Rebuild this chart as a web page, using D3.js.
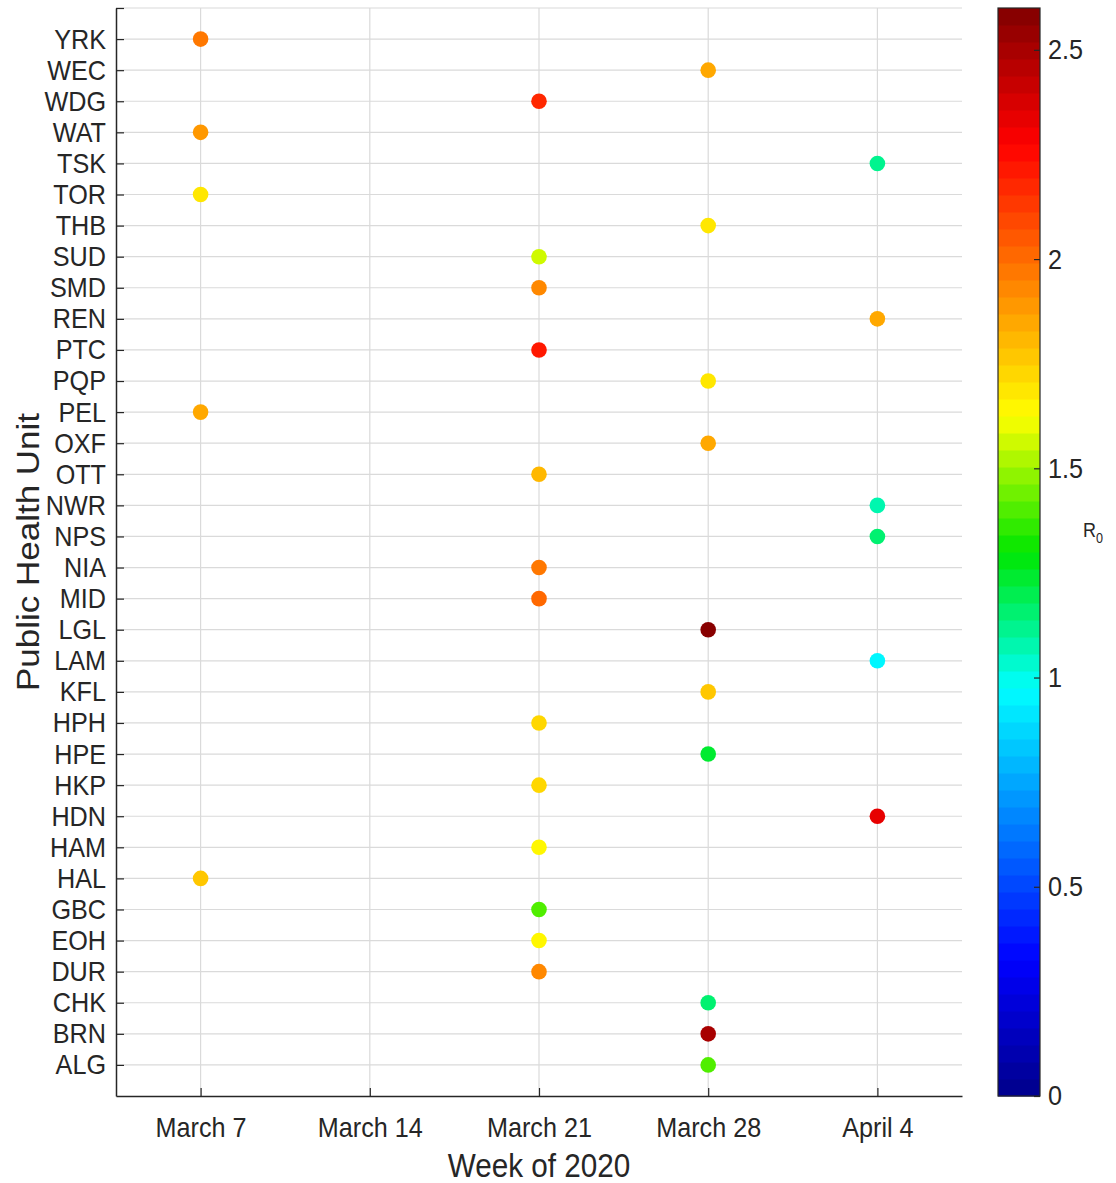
<!DOCTYPE html>
<html>
<head>
<meta charset="utf-8">
<script src="https://cdn.jsdelivr.net/npm/d3@7"></script>
<style>
  body { margin: 0; background: #fff; }
  text { font-family: "Liberation Sans", Arial, sans-serif; fill: #262626; }
</style>
</head>
<body>
<div id="chart"></div>
<script>

// categories (bottom to top)
var units = ["ALG", "BRN", "CHK", "DUR", "EOH", "GBC", "HAL", "HAM", "HDN", "HKP",
             "HPE", "HPH", "KFL", "LAM", "LGL", "MID", "NIA", "NPS", "NWR", "OTT",
             "OXF", "PEL", "PQP", "PTC", "REN", "SMD", "SUD", "THB", "TOR", "TSK",
             "WAT", "WDG", "WEC", "YRK"];

var weeks = ["March 7", "March 14", "March 21", "March 28", "April 4"];

// one entry per dot: unit, week, R0
var pointUnit = ["YRK", "WAT", "TOR", "PEL", "HAL",
                 "WDG", "SUD", "SMD", "PTC", "OTT", "NIA", "MID", "HPH", "HKP", "HAM", "GBC", "EOH", "DUR",
                 "WEC", "THB", "PQP", "OXF", "LGL", "KFL", "HPE", "CHK", "BRN", "ALG",
                 "TSK", "REN", "NWR", "NPS", "LAM", "HDN"];
var pointWeek = ["March 7", "March 7", "March 7", "March 7", "March 7",
                 "March 21", "March 21", "March 21", "March 21", "March 21", "March 21", "March 21",
                 "March 21", "March 21", "March 21", "March 21", "March 21", "March 21",
                 "March 28", "March 28", "March 28", "March 28", "March 28", "March 28", "March 28",
                 "March 28", "March 28", "March 28",
                 "April 4", "April 4", "April 4", "April 4", "April 4", "April 4"];
var pointR0 = [1.98, 1.87, 1.68, 1.85, 1.77,
               2.18, 1.57, 1.94, 2.20, 1.82, 1.96, 2.03, 1.72, 1.71, 1.65, 1.41, 1.64, 1.92,
               1.85, 1.68, 1.67, 1.84, 2.60, 1.77, 1.22, 1.15, 2.49, 1.40,
               1.10, 1.85, 1.06, 1.14, 0.97, 2.34];

var colorTicks = [0, 0.5, 1, 1.5, 2, 2.5];
var r0Max = 2.6;

// jet-like colour stops
var jetStops = [0, 0.125, 0.375, 0.5, 0.625, 0.75, 0.875, 1];
var jetColors = ["#00008a", "#0000ff", "#00ffff", "#00e600", "#ffff00", "#ff8000", "#ff0000", "#800000"];

var width = 1116;
var height = 1183;
var plotLeft = 116, plotRight = 962, plotTop = 8, plotBottom = 1096;
var squish = 0.9;   // the picture is a bit narrow
var fontSize = 28;

var svg = d3.select('#chart').append('svg')
            .attr('width', width)
            .attr('height', height);

var x = d3.scaleLinear()
          .domain([0.5, weeks.length + 0.5])
          .range([plotLeft, plotRight]);

var y = d3.scaleLinear()
          .domain([0, units.length + 1])
          .range([plotBottom, plotTop]);

var jet = d3.scaleLinear().domain(jetStops).range(jetColors).interpolate(d3.interpolateRgb);
var nLevels = 64;
function colorOf(v) {
  var i = Math.floor(v / r0Max * nLevels);
  i = Math.max(0, Math.min(nLevels - 1, i));
  return jet((i + 0.5) / nLevels);
}

// grid
var yTickValues = d3.range(1, units.length + 2);
var xTickValues = d3.range(1, weeks.length + 1);

svg.append('g').selectAll('line').data(yTickValues).enter().append('line')
   .attr('x1', plotLeft).attr('x2', plotRight)
   .attr('y1', function(d) { return y(d); })
   .attr('y2', function(d) { return y(d); })
   .attr('stroke', '#dadada').attr('stroke-width', 1.2);

svg.append('g').selectAll('line').data(xTickValues).enter().append('line')
   .attr('y1', plotTop).attr('y2', plotBottom)
   .attr('x1', function(d) { return x(d); })
   .attr('x2', function(d) { return x(d); })
   .attr('stroke', '#dadada').attr('stroke-width', 1.2);

// axes
var yAxis = d3.axisLeft(y)
              .tickValues(yTickValues)
              .tickFormat(function(i) { return units[i - 1] || ''; })
              .tickSizeInner(-8).tickSizeOuter(0);

var xAxis = d3.axisBottom(x)
              .tickValues(xTickValues)
              .tickFormat(function(i) { return weeks[i - 1]; })
              .tickSizeInner(-8).tickSizeOuter(0);

function styleTicks(sel) {
  sel.attr('transform', 'scale(' + squish + ',1)')
     .style('font-size', fontSize + 'px')
     .style('font-family', '"Liberation Sans", Arial, sans-serif')
     .attr('fill', '#262626');
}

var gy = svg.append('g')
            .attr('transform', 'translate(' + plotLeft + ',0)')
            .call(yAxis);
gy.selectAll('text').attr('x', -10 / squish).call(styleTicks);

var gx = svg.append('g')
            .attr('transform', 'translate(0,' + plotBottom + ')')
            .call(xAxis);
gx.selectAll('text').attr('y', 21).call(styleTicks);

[gx, gy].forEach(function(g) {
  g.select('.domain').attr('stroke', '#262626').attr('stroke-width', 1.5);
  g.selectAll('.tick line').attr('stroke', '#262626').attr('stroke-width', 1.2);
});

// axis labels
svg.append('text')
   .attr('transform', 'translate(' + ((plotLeft + plotRight) / 2) + ',1177) scale(' + squish + ',1)')
   .attr('text-anchor', 'middle')
   .style('font-size', '33px')
   .text('Week of 2020');

svg.append('text')
   .attr('transform', 'translate(39,' + ((plotTop + plotBottom) / 2) + ') rotate(-90) scale(1,' + squish + ')')
   .attr('text-anchor', 'middle')
   .style('font-size', '35px')
   .text('Public Health Unit');

// dots
var dots = pointUnit.map(function(u, i) {
  return { unit: u, week: pointWeek[i], r0: pointR0[i] };
});

svg.append('g').selectAll('circle').data(dots).enter().append('circle')
   .attr('cx', function(d) { return x(weeks.indexOf(d.week) + 1); })
   .attr('cy', function(d) { return y(units.indexOf(d.unit) + 1); })
   .attr('r', 7.8)
   .attr('fill', function(d) { return colorOf(d.r0); });

// colorbar
var cbLeft = 998, cbWidth = 42;
var cy = d3.scaleLinear().domain([0, r0Max]).range([plotBottom, plotTop]);

var cb = svg.append('g');
cb.selectAll('rect').data(d3.range(nLevels)).enter().append('rect')
  .attr('x', cbLeft)
  .attr('width', cbWidth)
  .attr('y', function(i) { return cy((i + 1) * r0Max / nLevels); })
  .attr('height', function(i) { return cy(i * r0Max / nLevels) - cy((i + 1) * r0Max / nLevels) + 0.5; })
  .attr('fill', function(i) { return colorOf((i + 0.5) * r0Max / nLevels); });

cb.append('rect')
  .attr('x', cbLeft).attr('y', plotTop)
  .attr('width', cbWidth).attr('height', plotBottom - plotTop)
  .attr('fill', 'none').attr('stroke', '#262626').attr('stroke-width', 1.2);

var cAxis = d3.axisRight(cy).tickValues(colorTicks)
              .tickFormat(d3.format('')).tickSizeInner(-6).tickSizeOuter(0);
var gc = svg.append('g')
            .attr('transform', 'translate(' + (cbLeft + cbWidth) + ',0)')
            .call(cAxis);
gc.select('.domain').remove();
gc.selectAll('.tick line').attr('stroke', '#262626').attr('stroke-width', 1.2);
gc.selectAll('text').attr('x', 8 / squish).call(styleTicks);

var rLabel = svg.append('text')
                .attr('transform', 'translate(1083,537) scale(' + squish + ',1)')
                .style('font-size', '20px');
rLabel.append('tspan').text('R');
rLabel.append('tspan').attr('dy', 6).style('font-size', '14px').text('0');

</script>
</body>
</html>
